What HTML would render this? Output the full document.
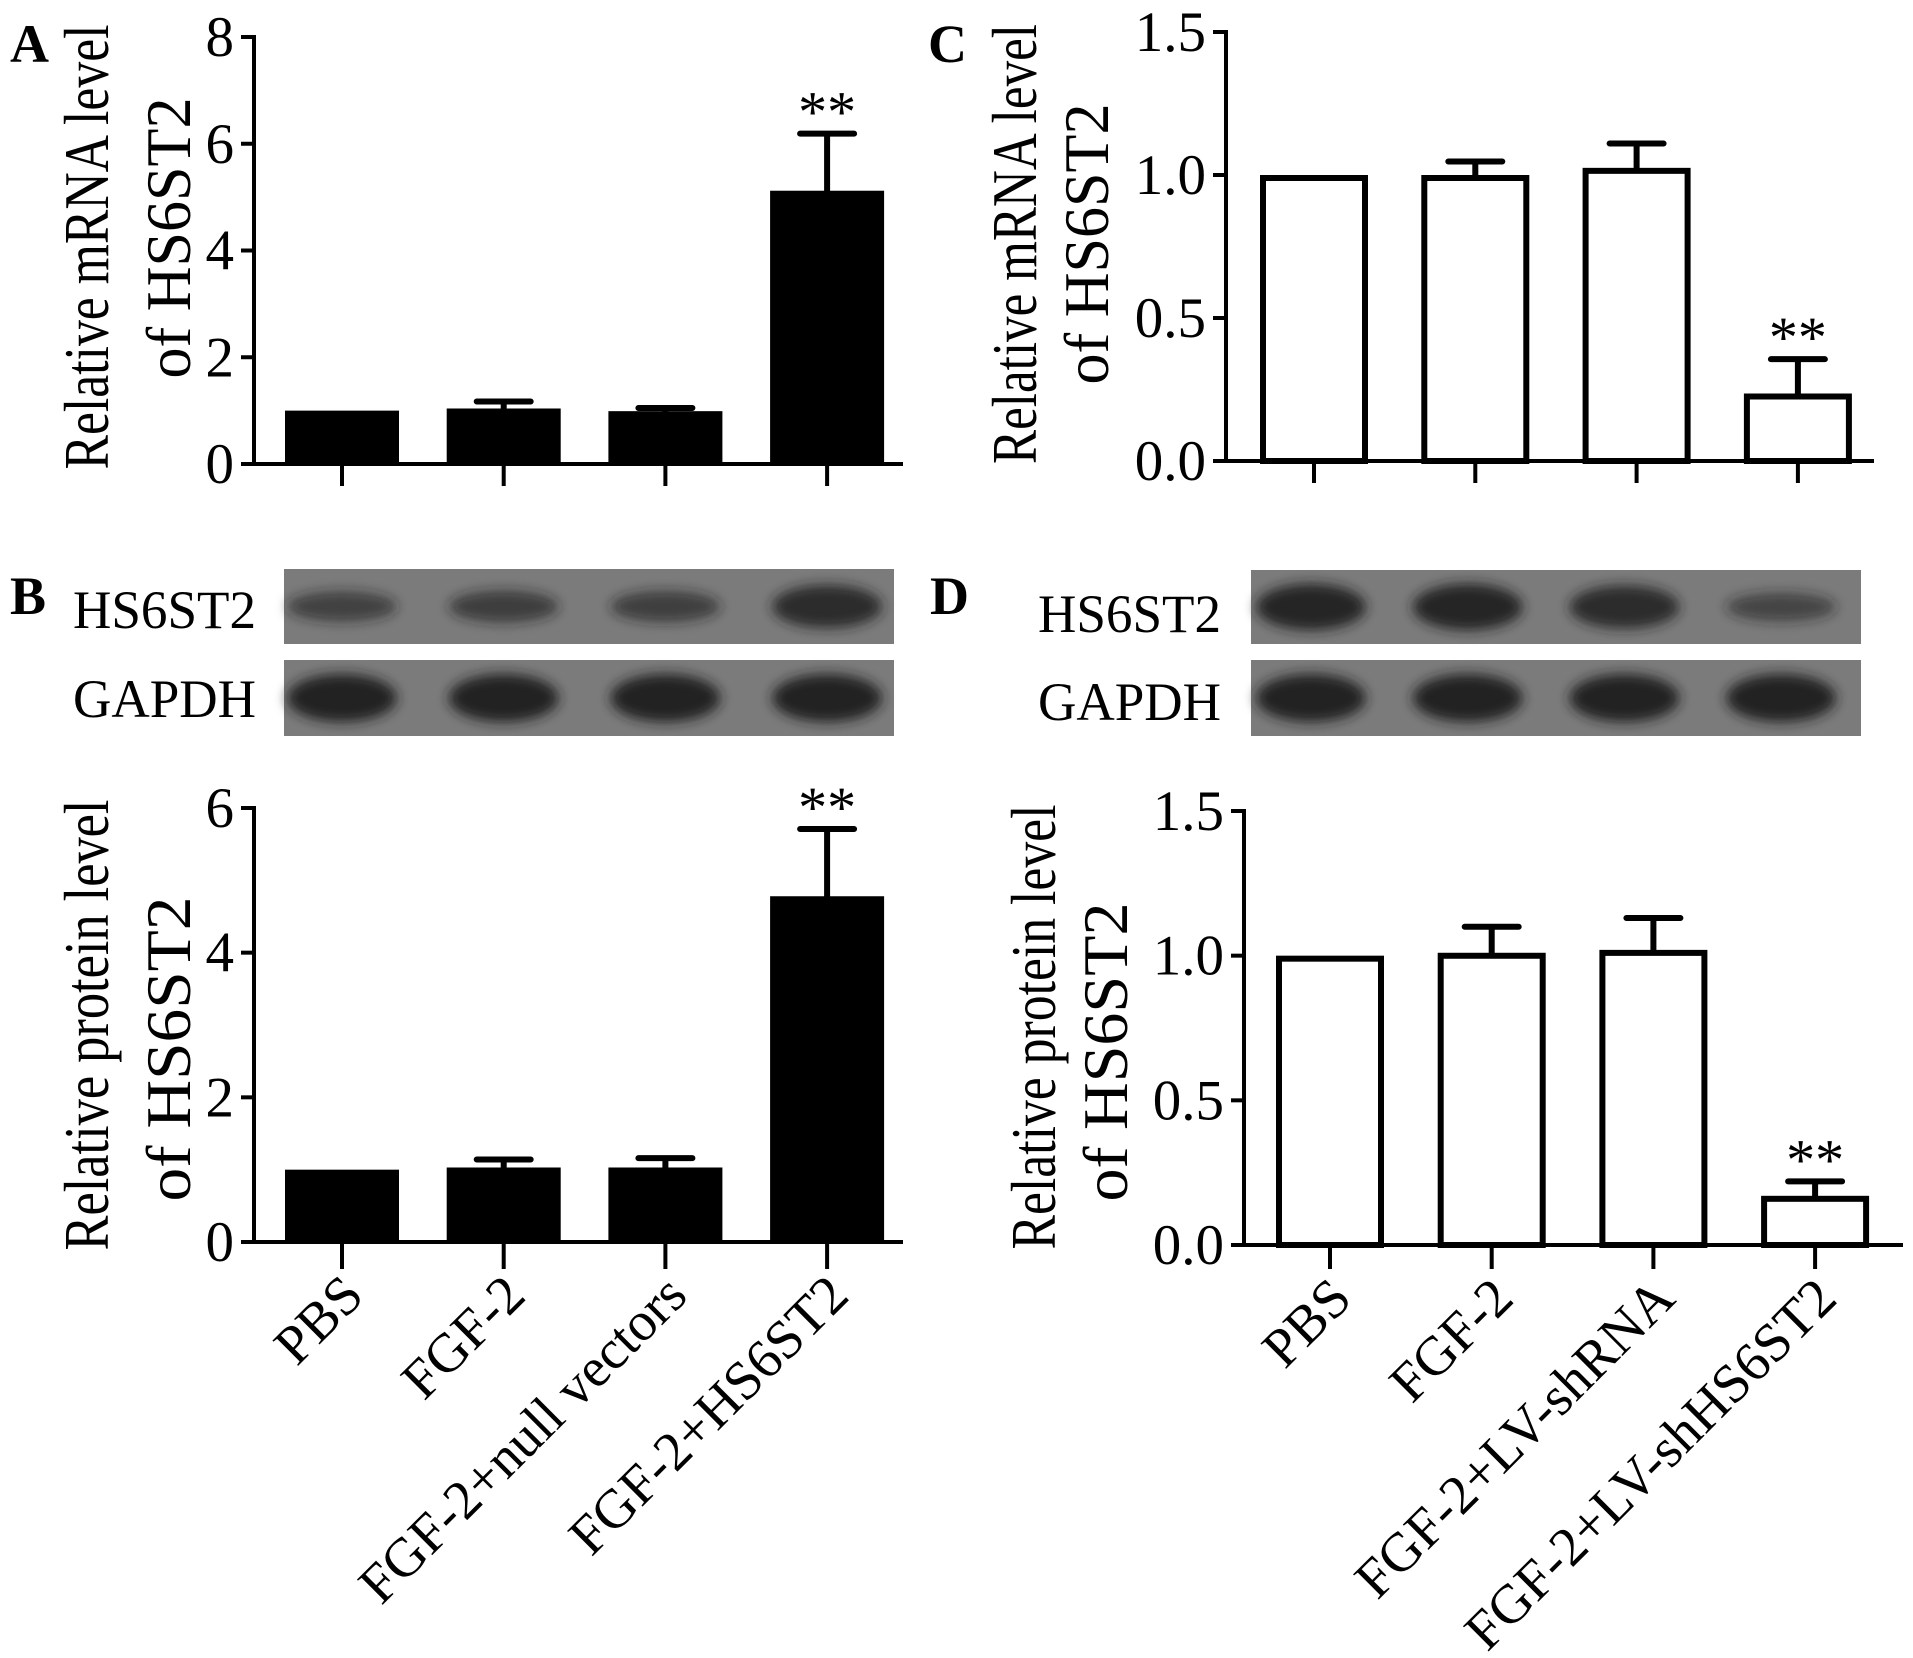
<!DOCTYPE html>
<html><head><meta charset="utf-8"><style>
html,body{margin:0;padding:0;background:#fff;}
svg{display:block;font-family:"Liberation Serif",serif;}
</style></head><body>
<svg id="fig" width="1913" height="1658" viewBox="0 0 1913 1658" xmlns="http://www.w3.org/2000/svg">
<defs><filter id="blur" x="-20%" y="-50%" width="140%" height="200%"><feGaussianBlur stdDeviation="6"/></filter></defs>
<g font-weight="bold" font-size="54">
<text x="10" y="62">A</text>
<text x="10" y="614">B</text>
<text x="928" y="62">C</text>
<text x="930" y="614">D</text>
</g>
<g font-size="54">
<text x="73" y="628" textLength="183" lengthAdjust="spacingAndGlyphs">HS6ST2</text>
<text x="73" y="717" textLength="183" lengthAdjust="spacingAndGlyphs">GAPDH</text>
<text x="1038" y="632" textLength="183" lengthAdjust="spacingAndGlyphs">HS6ST2</text>
<text x="1038" y="720" textLength="183" lengthAdjust="spacingAndGlyphs">GAPDH</text>
</g>
</svg>
<script>
// ---- Data ----
const catsLeft = ["PBS","FGF-2","FGF-2+null vectors","FGF-2+HS6ST2"];
const catsRight = ["PBS","FGF-2","FGF-2+LV-shRNA","FGF-2+LV-shHS6ST2"];
const valuesA = [1.0, 1.04, 0.99, 5.12];
const errorsA = [0, 0.13, 0.06, 1.07];
const ticksA = [0, 2, 4, 6, 8];
const valuesB = [1.0, 1.03, 1.03, 4.78];
const errorsB = [0, 0.11, 0.13, 0.93];
const ticksB = [0, 2, 4, 6];
const valuesC = [1.0, 1.0, 1.025, 0.236];
const errorsC = [0, 0.047, 0.085, 0.12];
const ticksC = [0, 0.5, 1.0, 1.5];
const valuesD = [1.0, 1.01, 1.02, 0.17];
const errorsD = [0, 0.09, 0.11, 0.05];
const ticksD = [0, 0.5, 1.0, 1.5];
const sigA = ["","","","**"], sigB = ["","","","**"], sigC = ["","","","**"], sigD = ["","","","**"];
const bandsB1 = [0.45, 0.5, 0.48, 0.85];
const bandsB2 = [1, 1, 1, 1];
const bandsD1 = [0.95, 0.95, 0.85, 0.4];
const bandsD2 = [1, 1, 1, 1];

const NS = "http://www.w3.org/2000/svg";
const svg = document.getElementById('fig');
function el(tag, attrs, parent){ const e=document.createElementNS(NS,tag); for(const k in attrs) e.setAttribute(k,attrs[k]); (parent||svg).appendChild(e); return e; }

function drawChart(p){
  const g = el('g',{});
  
  
  const ymax = p.ticks[p.ticks.length-1];
  const yS = v => p.y0 - (v/ymax)*(p.y0-p.yTop);
  const n = p.values.length;
  const xC = i => p.c0 + i*p.step;
  const ya = el('line',{x1:p.ax,y1:p.yTop-2,x2:p.ax,y2:p.y0+2,stroke:'#000','stroke-width':4},g);
  
  
  const xa = el('line',{x1:p.ax-2,y1:p.y0,x2:p.axEnd,y2:p.y0,stroke:'#000','stroke-width':4},g);
  
  
  p.ticks.forEach(t=>{
    const y=yS(t);
    el('line',{x1:p.ax-13,y1:y,x2:p.ax,y2:y,stroke:'#000','stroke-width':4},g);
    const tx = el('text',{x:p.ax-20,y:y+19,'text-anchor':'end','font-size':57},g);
    tx.textContent = p.fmt(t);
    
    
  });
  const tt = p.title;
  [0,1].forEach(k=>{
    const t = el('text',{transform:`translate(${tt.x[k]},${tt.cy[k]}) rotate(-90)`,'text-anchor':'middle','font-size':63,textLength:tt.len[k],lengthAdjust:'spacingAndGlyphs'},g);
    t.textContent = tt.lines[k];
    
    
  });
  for(let i=0;i<n;i++){
    const cx = xC(i), v=p.values[i], e=p.errors[i];
    const top=yS(v);
    const sw = p.filled?0:6;
    const r = el('rect',{x:cx-p.bw/2+sw/2,y:top+sw/2,width:p.bw-sw,height:p.y0-top-sw/2,fill:p.filled?'#000':'#fff',stroke:'#000','stroke-width':sw},g);
    
    
    if(e>0){
      const et=yS(v+e);
      const eb = el('path',{d:`M${cx},${top} V${et} M${cx-27},${et} H${cx+27}`,stroke:'#000','stroke-width':6,'stroke-linecap':'round',fill:'none'},g);
      
      
      if(p.sig[i]){
        const s = el('text',{x:cx,y:et-2,'text-anchor':'middle','font-size':58},g);
        s.textContent=p.sig[i];
        
        
      }
    }
    el('line',{x1:cx,y1:p.y0,x2:cx,y2:p.tb,stroke:'#000','stroke-width':4},g);
    if(p.cats){
      const lb = el('text',{transform:`translate(${cx+24},${p.y0+56}) rotate(-45)`,'text-anchor':'end','font-size':55},g);
      lb.textContent=p.cats[i];
      
      
    }
  }
}
const f0 = t=>String(t), f1=t=>t.toFixed(1);
drawChart({name:'chart-a-mrna',values:valuesA,errors:errorsA,ticks:ticksA,sig:sigA,filled:true,ax:254,axEnd:903,yTop:37,y0:464,tb:486,c0:342,step:161.7,bw:114,fmt:f0,cats:null,
  title:{lines:['Relative mRNA level','of HS6ST2'],x:[108,190],cy:[247,238],len:[445,281]}});
drawChart({name:'chart-b-protein',values:valuesB,errors:errorsB,ticks:ticksB,sig:sigB,filled:true,ax:254,axEnd:903,yTop:808,y0:1242,tb:1269,c0:342,step:161.7,bw:114,fmt:f0,cats:catsLeft,
  title:{lines:['Relative protein level','of HS6ST2'],x:[108,190],cy:[1025,1049],len:[451,305]}});
drawChart({name:'chart-c-mrna',values:valuesC,errors:errorsC,ticks:ticksC,sig:sigC,filled:false,ax:1226,axEnd:1874,yTop:32,y0:461,tb:483,c0:1314,step:161.3,bw:108,fmt:f1,cats:null,
  title:{lines:['Relative mRNA level','of HS6ST2'],x:[1036,1108],cy:[244,244],len:[440,281]}});
drawChart({name:'chart-d-protein',values:valuesD,errors:errorsD,ticks:ticksD,sig:sigD,filled:false,ax:1244,axEnd:1903,yTop:811,y0:1245,tb:1269,c0:1330,step:161.7,bw:108,fmt:f1,cats:catsRight,
  title:{lines:['Relative protein level','of HS6ST2'],x:[1055,1127],cy:[1027,1052],len:[445,299]}});

function drawBlot(name,x,y,w,h,bands,c0,step){
  const g = el('g',{});
  
  
  el('rect',{x:x,y:y,width:w,height:h,fill:'#7b7b7b'},g);
  bands.forEach((b,i)=>{
    const cx=c0+i*step;
    const e = el('ellipse',{cx:cx,cy:y+h/2,rx:55,ry:8+16*b,fill:'#1e1e1e','fill-opacity':0.35+0.6*b,filter:'url(#blur)'},g);
    
    
  });
}
drawBlot('blot-b-hs6st2',284,569,610,75,bandsB1,342,161.7);
drawBlot('blot-b-gapdh',284,660,610,76,bandsB2,342,161.7);
drawBlot('blot-d-hs6st2',1251,570,610,74,bandsD1,1311,156.7);
drawBlot('blot-d-gapdh',1251,660,610,76,bandsD2,1311,156.7);
</script>
</body></html>
